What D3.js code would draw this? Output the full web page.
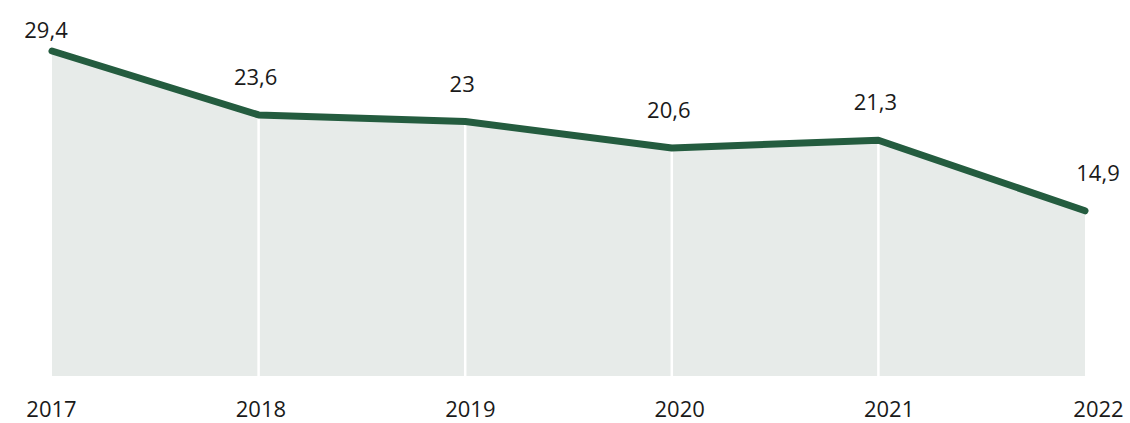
<!DOCTYPE html>
<html>
<head>
<meta charset="utf-8">
<script src="https://cdn.jsdelivr.net/npm/d3@7"></script>
<style>
  html, body { margin: 0; padding: 0; background: #fff; overflow: hidden; }
  svg { display: block; }
  svg text { font-family: "Open Sans", sans-serif; fill: #1a1a1a; }
</style>
</head>
<body>
<div id="chart"></div>
<script>
const years = ["2017", "2018", "2019", "2020", "2021", "2022"];
const values = [29.4, 23.6, 23, 20.6, 21.3, 14.9];
const valueLabels = ["29,4", "23,6", "23", "20,6", "21,3", "14,9"];

const W = 1130, H = 423;

const svg = d3.select("#chart")
    .append("svg")
    .attr("width", W)
    .attr("height", H);

// plot scale (marks) and label scale (axis text)
const x = d3.scalePoint().domain(years).range([52, 1085]);
const xLabel = d3.scalePoint().domain(years).range([51, 1098]);
const y = d3.scaleLinear().domain([0, 29.4]).range([375, 51]);

const data = years.map((yr, i) => ({ year: yr, value: values[i], label: valueLabels[i] }));

// Area
svg.append("path")
    .datum(data)
    .attr("d", d3.area()
        .x(d => x(d.year))
        .y0(y(0) + 1)
        .y1(d => y(d.value)))
    .style("fill", "#e7ebe9");

// White vertical grid lines (inner years)
svg.append("g")
    .selectAll("line")
    .data(data.slice(1, -1))
    .enter().append("line")
    .attr("x1", d => x(d.year))
    .attr("x2", d => x(d.year))
    .attr("y1", d => y(d.value))
    .attr("y2", y(0) + 1)
    .style("stroke", "#fff")
    .style("stroke-width", 2.5);

// Line
svg.append("path")
    .datum(data)
    .attr("d", d3.line()
        .x(d => x(d.year))
        .y(d => y(d.value)))
    .style("fill", "none")
    .style("stroke", "#245c3f")
    .style("stroke-width", 7)
    .style("stroke-linecap", "round")
    .style("stroke-linejoin", "round");

// Value labels (kept inside the top edge)
svg.append("g")
    .selectAll("text")
    .data(data)
    .enter().append("text")
    .attr("x", (d, i) => i === 0 ? x(d.year) - 6 : (i === data.length - 1 ? x(d.year) + 13 : x(d.year) - 3))
    .attr("y", d => Math.max(y(d.value) - 30, 38))
    .attr("text-anchor", "middle")
    .style("font-size", "22px")
    .text(d => d.label);

// X axis labels
svg.append("g")
    .attr("transform", `translate(0,${y(0)})`)
    .call(d3.axisBottom(xLabel).tickSize(0).tickPadding(26))
    .call(g => g.select(".domain").remove())
    .selectAll("text")
    .style("font-size", "22px")
    .style("font-family", "'Open Sans', sans-serif")
    .style("fill", "#1a1a1a");
</script>
</body>
</html>
